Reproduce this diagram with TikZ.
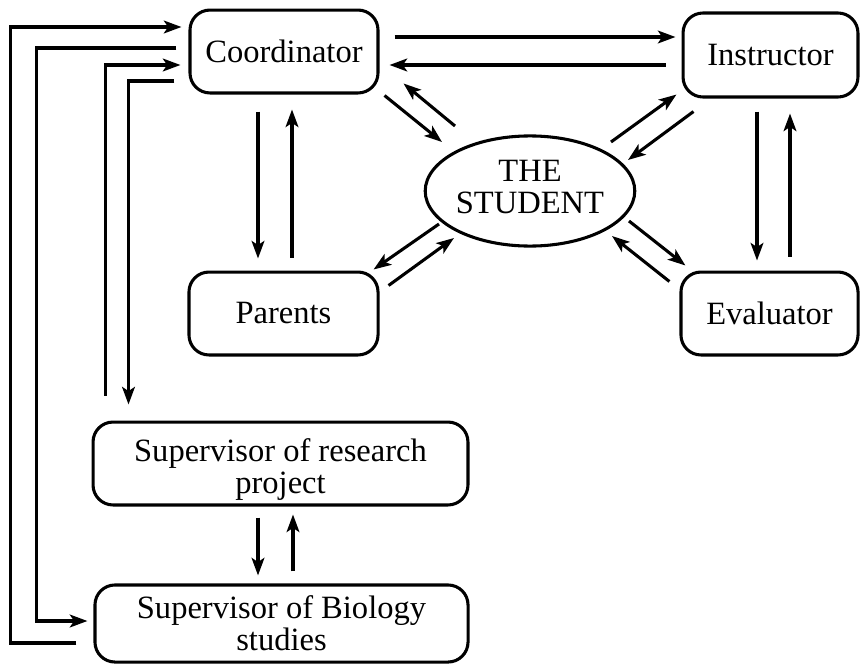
\documentclass[tikz,border=0pt]{standalone}
\usepackage{fontspec}
\setmainfont{Liberation Serif}
\usetikzlibrary{arrows.meta,calc,shapes.geometric}

\begin{document}
\begin{tikzpicture}[x=0.375pt,y=-0.375pt,line width=1.15pt,
  font=\fontsize{12.2}{12}\selectfont,
  box/.style={draw,rounded corners=7.5pt,inner sep=0pt,minimum height=31.1pt,align=center},
  arr/.style={-{Stealth[length=6.6pt,width=4.8pt,inset=1.6pt]}}]
\useasboundingbox (0,0) rectangle (861,664);
\node[box,minimum width=70.5pt] (coord) at (284,51.5) {Coordinator};
\node[box,minimum width=65.6pt,minimum height=31.5pt] (inst) at (770.5,55) {Instructor};
\node[box,minimum width=66.4pt] (eval) at (769.5,313.5) {Evaluator};
\node[box,minimum width=70.9pt] (par) at (283.5,313.5) {Parents};
\node[draw,ellipse,inner sep=0pt,minimum width=77.3pt,minimum height=41.3pt,align=center,text depth=3pt] (stud) at (530,191) {THE\\STUDENT};
\node[box,minimum width=140.6pt,text height=25pt] (res) at (280.5,463.5) {Supervisor of research\\project};
\node[box,minimum width=139.9pt,minimum height=28.9pt] (bio) at (281.5,623.5) {Supervisor of Biology\\studies};
\draw[arr] ($(coord.east)+(15,-14.5)$) -- ($(inst.west)+(-6,-18)$);
\draw[arr] ($(inst.west)+(-16,10)$) -- ($(coord.east)+(10,13.5)$);
\draw[arr] ($(coord.south)+(-26,17)$) -- ($(par.north)+(-25.5,-12)$);
\draw[arr] ($(par.north)+(8.5,-13)$) -- ($(coord.south)+(8,15)$);
\draw[arr] ($(inst.south)+(-13.5,13)$) -- ($(eval.north)+(-12.5,-10)$);
\draw[arr] ($(eval.north)+(20.5,-14)$) -- ($(inst.south)+(19.5,15)$);
\draw[arr] ($(res.south)+(-22.5,11)$) -- ($(bio.north)+(-23.5,-8)$);
\draw[arr] ($(bio.north)+(11.5,-12)$) -- ($(res.south)+(12.5,8)$);
\draw[arr] ($(stud)+(-75,-65)$) -- ($(coord.south east)+(24,-11)$);
\draw[arr] ($(coord.south east)+(5,1)$) -- ($(stud)+(-88,-49)$);
\draw[arr] ($(stud)+(81,-49)$) -- ($(inst.south west)+(-5,-4)$);
\draw[arr] ($(inst.south west)+(12,13)$) -- ($(stud)+(98,-31)$);
\draw[arr] ($(stud)+(99,30)$) -- ($(eval.north west)+(6,-5)$);
\draw[arr] ($(eval.north west)+(-10,11)$) -- ($(stud)+(82,45)$);
\draw[arr] ($(stud)+(-91,33)$) -- ($(par.north east)+(-6,-1)$);
\draw[arr] ($(par.north east)+(9,15)$) -- ($(stud)+(-76,47)$);
\draw[arr] ($(bio.west)+(-17,19.5)$) -- ++(-66,0) |- ($(coord.west)+(-7,-24.5)$);
\draw[arr] ($(coord.west)+(-12,-3.5)$) -- ++(-140,0) |- ($(bio.west)+(-6,-2.5)$);
\draw[arr] ($(res.north west)+(14,-25)$) |- ($(coord.west)+(-8,13.5)$);
\draw[arr] ($(coord.west)+(-14,29.5)$) -| ($(res.north west)+(37,-16)$);
\end{tikzpicture}
\end{document}
